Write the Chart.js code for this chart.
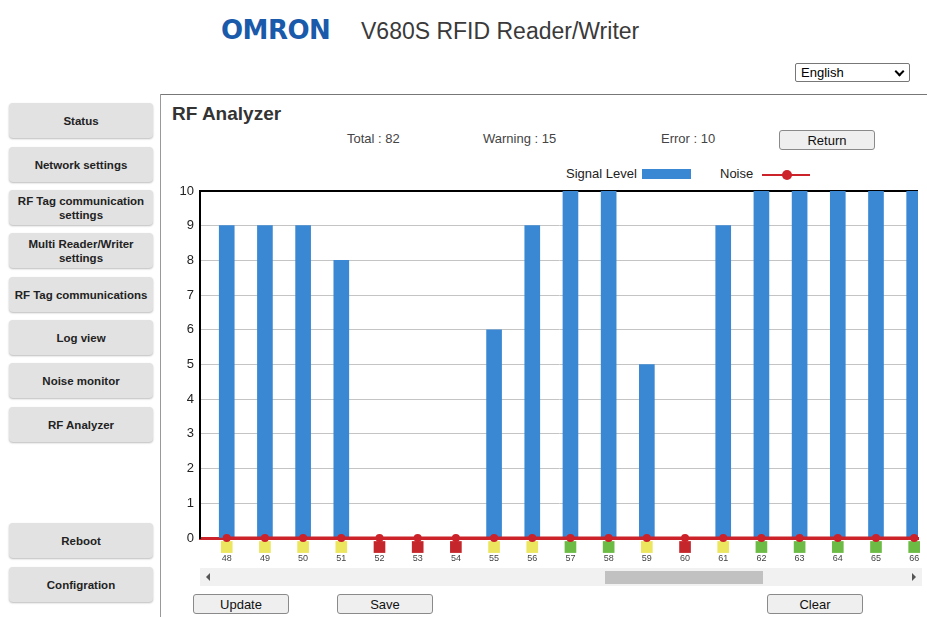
<!DOCTYPE html>
<html>
<head>
<meta charset="utf-8">
<script src="https://cdn.jsdelivr.net/npm/chart.js@4"></script>
<style>
  body { margin: 0; width: 927px; height: 617px; background: #fff; position: relative; overflow: hidden;
         font-family: "Liberation Sans", Arial, sans-serif; color: #333; }
  .abs { position: absolute; }
  #logo { left: 221px; top: 15px; font-family: "DejaVu Sans", sans-serif; font-weight: bold; font-size: 26px;
          color: #1a5aab; letter-spacing: -0.5px; }
  #product { left: 361px; top: 18px; font-size: 23px; color: #3a3a3a; }
  #lang { left: 795px; top: 63px; width: 113px; height: 17px; border: 1px solid #777; border-radius: 2px;
          font-size: 13px; color: #000; line-height: 17px; }
  #lang span { position: absolute; left: 5px; }
  #lang i { position: absolute; right: 6px; top: 4px; width: 5px; height: 5px; border-right: 2px solid #000;
            border-bottom: 2px solid #000; transform: rotate(45deg); }
  #hline { left: 160px; top: 94px; width: 767px; height: 1px; background: #777; }
  #vline { left: 160px; top: 94px; width: 1px; height: 523px; background: #999; }
  .nav { position: absolute; left: 9px; width: 144px; height: 35px; background: #e2e2e2; border-radius: 4px;
         box-shadow: 0 1px 2px #bbb; font-weight: bold; font-size: 11.5px; color: #222; display: flex;
         align-items: center; justify-content: center; text-align: center; line-height: 14px; }
  #title { left: 172px; top: 103px; font-size: 19px; font-weight: bold; color: #333; }
  .stat { position: absolute; top: 131px; font-size: 13px; color: #444; }
  .btn { position: absolute; width: 94px; height: 18px; border: 1px solid #8a8a8a; border-radius: 3px;
         background: #efefef; font-size: 13px; color: #111; text-align: center; line-height: 19px; }
  .leg { position: absolute; top: 166px; font-size: 13px; color: #222; }
  #chartBox { left: 160px; top: 180px; width: 762px; height: 388px; overflow: hidden; }
  #track { left: 200px; top: 568px; width: 722px; height: 18px; background: #f1f1f1; }
  #thumb { left: 605px; top: 571px; width: 158px; height: 13px; background: #c1c1c1; }
</style>
</head>
<body>
<div class="abs" id="logo">OMRON</div>
<div class="abs" id="product">V680S RFID Reader/Writer</div>
<div class="abs" id="lang"><span>English</span><i></i></div>
<div class="abs" id="hline"></div>
<div class="abs" id="vline"></div>

<div class="nav" style="top:103px">Status</div>
<div class="nav" style="top:147px">Network settings</div>
<div class="nav" style="top:190px">RF Tag communication<br>settings</div>
<div class="nav" style="top:233px">Multi Reader/Writer<br>settings</div>
<div class="nav" style="top:277px">RF Tag communications</div>
<div class="nav" style="top:320px">Log view</div>
<div class="nav" style="top:363px">Noise monitor</div>
<div class="nav" style="top:407px">RF Analyzer</div>
<div class="nav" style="top:523px">Reboot</div>
<div class="nav" style="top:567px">Configration</div>

<div class="abs" id="title">RF Analyzer</div>
<div class="stat" style="left:347px">Total : 82</div>
<div class="stat" style="left:483px">Warning : 15</div>
<div class="stat" style="left:661px">Error : 10</div>
<div class="btn" style="left:779px; top:130px">Return</div>

<div class="leg" style="left:566px">Signal Level</div>
<div class="abs" style="left:642px; top:169px; width:49px; height:10px; background:#3a88d4"></div>
<div class="leg" style="left:720px">Noise</div>
<div class="abs" style="left:762px; top:174px; width:48px; height:2px; background:#cc2229"></div>
<div class="abs" style="left:782px; top:170px; width:10px; height:10px; border-radius:50%; background:#cc2229"></div>

<div class="abs" id="chartBox"><canvas id="rfChart" width="762" height="388"></canvas></div>

<div class="abs" id="track"></div>
<div class="abs" id="thumb"></div>
<div class="abs" style="left:206px; top:573px; width:0; height:0; border-top:4px solid transparent; border-bottom:4px solid transparent; border-right:4px solid #555"></div>
<div class="abs" style="left:912px; top:573px; width:0; height:0; border-top:4px solid transparent; border-bottom:4px solid transparent; border-left:4px solid #555"></div>

<div class="btn" style="left:193px; top:594px">Update</div>
<div class="btn" style="left:337px; top:594px">Save</div>
<div class="btn" style="left:767px; top:594px">Clear</div>

<script>
// channels visible in the scrolled window
const channels = [48, 49, 50, 51, 52, 53, 54, 55, 56, 57, 58, 59, 60, 61, 62, 63, 64, 65, 66];
const signalLevel = [9, 9, 9, 8, 0, 0, 0, 6, 9, 10, 10, 5, 0, 9, 10, 10, 10, 10, 10];
const noiseLevel = [0, 0, 0, 0, 0, 0, 0, 0, 0, 0, 0, 0, 0, 0, 0, 0, 0, 0, 0];
const channelStatus = ['warn', 'warn', 'warn', 'warn', 'error', 'error', 'error', 'warn', 'warn', 'ok',
                       'ok', 'warn', 'error', 'warn', 'ok', 'ok', 'ok', 'ok', 'ok'];
const yTicks = [0, 1, 2, 3, 4, 5, 6, 7, 8, 9, 10];

const statusColors = { ok: '#6cbb45', warn: '#ebe65e', error: '#c4262b' };
const STATUS_ROW = [-0.42, -0.1]; // marker row just under the axis

const ctx = document.getElementById('rfChart').getContext('2d');
new Chart(ctx, {
  data: {
    datasets: [
      {
        type: 'line',
        label: 'Noise',
        data: channels.map((c, i) => ({ x: c, y: noiseLevel[i] })),
        borderColor: '#cc2229',
        backgroundColor: '#cc2229',
        borderWidth: 3,
        pointRadius: 4,
        pointBorderWidth: 0,
        clip: false
      },
      {
        type: 'bar',
        label: 'Status',
        data: channels.map(c => ({ x: c, y: STATUS_ROW })),
        backgroundColor: channelStatus.map(s => statusColors[s]),
        barThickness: 11,
        grouped: false,
        clip: false
      },
      {
        type: 'bar',
        label: 'Signal Level',
        data: channels.map((c, i) => ({ x: c, y: signalLevel[i] })),
        backgroundColor: '#3a88d4',
        barThickness: 15,
        grouped: false
      }
    ]
  },
  options: {
    responsive: false,
    animation: false,
    layout: { padding: { top: 11, left: 0, right: 0, bottom: 0 } },
    plugins: { legend: { display: false }, tooltip: { enabled: false } },
    scales: {
      x: {
        type: 'linear',
        offset: false,
        min: 47.3,
        max: 66.1,
        afterBuildTicks: axis => { axis.ticks = channels.map(v => ({ value: v })); },
        afterFit: s => { s.height = 30; s.paddingLeft = 0; s.paddingRight = 0; },
        grid: { display: false, drawTicks: false },
        border: { display: true, color: '#cc2229', width: 3 },
        ticks: { autoSkip: false, maxRotation: 0, padding: 15, color: '#444',
                 font: { size: 9, family: 'Liberation Sans' } }
      },
      y: {
        min: 0,
        max: 10,
        afterBuildTicks: axis => { axis.ticks = yTicks.map(v => ({ value: v })); },
        afterFit: s => { s.width = 40; s.paddingTop = 0; s.paddingBottom = 0; },
        grid: {
          drawTicks: false,
          color: c => c.tick && c.tick.value === 10 ? '#000' : '#c4c4c4',
          lineWidth: c => c.tick && c.tick.value === 10 ? 2 : 1
        },
        border: { color: '#000', width: 2 },
        ticks: { padding: 6, color: '#222', font: { size: 13, family: 'Liberation Sans' } }
      }
    }
  }
});
</script>
</body>
</html>
